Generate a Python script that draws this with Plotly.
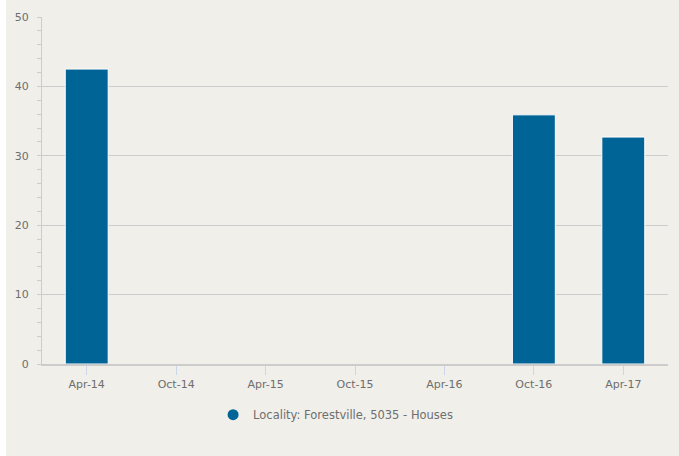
"""
Bar chart of a locality series by half-year period
"""
import plotly.graph_objects as go

periods = ["Apr-14", "Oct-14", "Apr-15", "Oct-15", "Apr-16", "Oct-16", "Apr-17"]
values = [42.5, None, None, None, None, 35.9, 32.7]
series_name = "Locality: Forestville, 5035 - Houses"

BAR_COLOR = '#006496'
BG_COLOR = '#f0efea'
TEXT_COLOR = '#6e6e6e'
GRID_COLOR = '#cccccc'


def create_chart() -> go.Figure:
    """
    Build the bar chart with a circle legend marker
    """
    fig = go.Figure()

    fig.add_trace(go.Bar(
        x=periods,
        y=values,
        name=series_name,
        marker=dict(color=BAR_COLOR, line=dict(color='white', width=1)),
        width=0.48,
        showlegend=False,
    ))

    # Legend entry only (circle symbol like the original)
    fig.add_trace(go.Scatter(
        x=[None], y=[None],
        mode='markers',
        name=series_name,
        marker=dict(color=BAR_COLOR, size=11, symbol='circle'),
    ))

    # thin white strip on the left edge
    fig.add_shape(
        type='rect', xref='paper', yref='paper',
        x0=-42 / 626, x1=-36 / 626, y0=-0.3, y1=1.1,
        fillcolor='white', line=dict(width=0), layer='below',
    )

    fig.update_layout(
        width=679,
        height=456,
        margin=dict(l=42, r=11, t=15, b=92),
        paper_bgcolor=BG_COLOR,
        plot_bgcolor=BG_COLOR,
        font=dict(family='DejaVu Sans', size=11, color=TEXT_COLOR),
        showlegend=True,
        legend=dict(
            orientation='h',
            x=0.469, xanchor='center',
            y=-0.146, yanchor='middle',
            bgcolor='rgba(0,0,0,0)',
            font=dict(size=11.5, color=TEXT_COLOR),
        ),
        xaxis=dict(
            type='category',
            range=[-0.5, 6.5],
            showgrid=False,
            showline=True,
            linecolor=GRID_COLOR,
            linewidth=2,
            ticks='outside',
            ticklen=9,
            tickcolor='#ccd6eb',
            tickfont=dict(size=11, color=TEXT_COLOR),
            zeroline=False,
            fixedrange=True,
        ),
        yaxis=dict(
            range=[0, 50],
            dtick=10,
            showgrid=True,
            gridcolor=GRID_COLOR,
            gridwidth=1,
            showline=True,
            linecolor=GRID_COLOR,
            linewidth=1,
            ticks='outside',
            ticklen=4,
            tickcolor=GRID_COLOR,
            ticklabelstandoff=6,
            tickfont=dict(size=11, color=TEXT_COLOR),
            zeroline=False,
            minor=dict(ticks='outside', dtick=2, ticklen=4, tickcolor=GRID_COLOR, showgrid=False),
            fixedrange=True,
        ),
    )

    return fig


fig = create_chart()
# drop the default page margin so the chart sits at the top-left corner
fig.write_html(
    "out.html",
    config={'displayModeBar': False},
    post_script="document.body.style.margin='0';",
)
